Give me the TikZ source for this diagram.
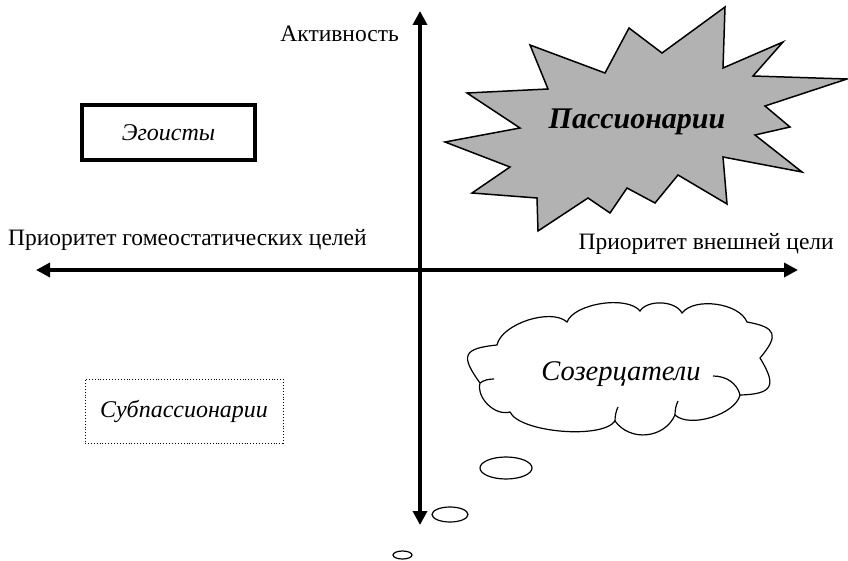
\documentclass[tikz,border=0pt]{standalone}
\usepackage{fontspec}
\setmainfont{Liberation Serif}
\usetikzlibrary{arrows.meta,shapes.geometric}
\definecolor{stargray}{RGB}{178,178,178}
\begin{document}
\begin{tikzpicture}[x=1pt,y=-1pt,
  axis/.style={line width=4pt,{Triangle[length=14pt,width=14pt]}-{Triangle[length=14pt,width=14pt]}},
  axlabel/.style={font=\fontsize{23.5}{26}\selectfont,inner sep=0pt},
  typelabel/.style={font=\fontsize{24}{28}\itshape\selectfont,inner sep=0pt},
  bubble/.style={draw,line width=1.2pt,ellipse,inner sep=0pt},
  outline/.style={line width=1.2pt}
]
\useasboundingbox (0,0) rectangle (848,561);
% axes
\coordinate (top) at (420,11);
\coordinate (bot) at (420,525);
\coordinate (left) at (36,270);
\coordinate (right) at (798,270);
\draw[axis] (bot) -- (top);
\draw[axis] (left) -- (right);
\node[axlabel,anchor=east] (act) at (399,34) {Активность};
\node[axlabel,anchor=west] (homeo) at (8,240) {Приоритет гомеостатических целей};
\node[axlabel,anchor=east] (ext) at (834,244) {Приоритет внешней цели};
% Egoists
\node[draw,line width=4pt,minimum width=173pt,minimum height=55pt,typelabel] (ego) at (168.5,132.5) {Эгоисты};
% Subpassionaries
\node[draw,dotted,line width=0.9pt,minimum width=198pt,minimum height=64pt,typelabel] (sub) at (184,411) {Субпассионарии};
% Star
\draw[line width=1.5pt,fill=stargray,line join=miter]
 (725,7) -- (723,68) -- (783,42) -- (753,76) -- (847,79) -- (765,106) -- (790,127)
 -- (755,135) -- (802,172) -- (723,157) -- (727,204) -- (678,175) -- (655,203)
 -- (627,188) -- (610,213) -- (588,198) -- (538,231) -- (537,198) -- (472,193)
 -- (510,167) -- (445,142) -- (520,128) -- (467,93) -- (548,89) -- (530,45)
 -- (605,73) -- (629,28) -- (662,53) -- cycle;
\node[font=\fontsize{30}{34}\bfseries\itshape\selectfont,inner sep=0pt] (pass) at (637,122) {Пассионарии};
% Cloud
\coordinate (J1) at (480,383);
\coordinate (J2) at (497,345);
\coordinate (J3) at (567,322);
\coordinate (J4) at (640,311);
\coordinate (J5) at (682,313);
\coordinate (J6) at (747,322);
\coordinate (J7) at (760,358);
\coordinate (J8) at (740,395);
\coordinate (J9) at (675,415);
\coordinate (J10) at (615,421);
\coordinate (J11) at (510,412);
\draw[outline,fill=white]
 (J1) to[bend left=60,looseness=2.1] (J2)
 to[bend left=60,looseness=0.75] (J3)
 to[bend left=60,looseness=0.7] (J4)
 to[bend left=60,looseness=0.85] (J5)
 to[bend left=60,looseness=0.8] (J6)
 to[bend left=60,looseness=2.0] (J7)
 to[bend left=60,looseness=2.0] (J8)
 to[bend left=60,looseness=0.75] (J9)
 to[bend left=60,looseness=1.1] (J10)
 to[bend left=60,looseness=0.55] (J11)
 to[bend left=60,looseness=0.95] (J1) -- cycle;
% inner hooks of the cloud outline
\draw[outline] (J8) .. controls (737,383) and (726,376) .. (713,376);
\draw[outline] (J10) .. controls (615,416) and (616,411) .. (618,407);
\draw[outline] (J9) .. controls (675,410) and (676,405) .. (678,401);
\draw[outline] (J1) .. controls (484,380) and (489,379) .. (494,379);
\node[font=\fontsize{28.5}{32}\itshape\selectfont,inner sep=0pt] (cont) at (621,374) {Созерцатели};
% thought bubbles
\node[bubble,minimum width=52pt,minimum height=22pt] (b1) at (506,468) {};
\node[bubble,minimum width=36pt,minimum height=15pt] (b2) at (450,514.5) {};
\node[bubble,minimum width=19pt,minimum height=8pt] (b3) at (402.5,555) {};
\end{tikzpicture}
\end{document}
